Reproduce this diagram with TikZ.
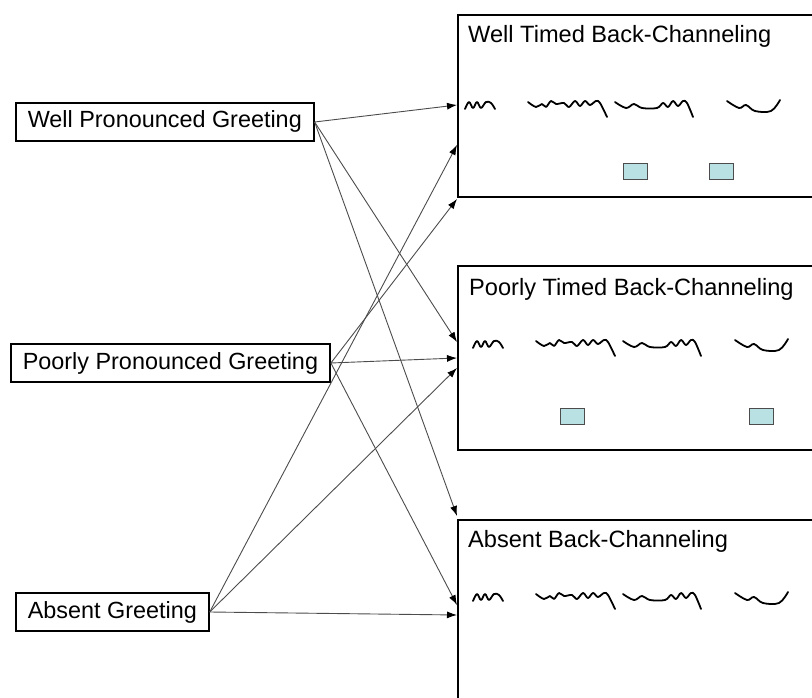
\documentclass[tikz,border=0pt]{standalone}
\usepackage{fontspec}
\setmainfont{Liberation Sans}
\usepackage{tikz}
\usetikzlibrary{arrows.meta}
\definecolor{cuefill}{RGB}{185,224,226}
\tikzset{
  greet/.style={draw, line width=1.6pt, anchor=west, inner xsep=12pt, inner ysep=8pt,
    text height=17pt, text depth=5pt, font=\fontsize{23.4}{28}\selectfont},
  panel/.style={draw, line width=2pt, anchor=north west, minimum width=420pt},
  title/.style={anchor=base west, inner sep=0pt, font=\fontsize{23.6}{28}\selectfont},
  cue/.style={draw=black!70, line width=1pt, fill=cuefill, minimum width=24pt, minimum height=16pt, inner sep=0pt},
  link/.style={draw=black!70, line width=0.9pt, -{Latex[length=10pt,width=7pt,black]}},
  scrawl/.style={line width=1.8pt, line cap=round, line join=round},
  scribble/.pic={
    \draw [scrawl] plot [smooth, tension=0.6] coordinates {(0,6) (4,-1) (8,5) (12,-1) (16,5) (21,-1) (26,0) (30,6)};
    \draw [scrawl] plot [smooth, tension=0.6] coordinates {(63,-1) (71,4) (77,1) (81,4) (86,-2) (91,1) (99,0) (104,4) (110,-2) (115,3) (120,-2) (125,2) (131,-2) (135,0) (142,14)};
    \draw [scrawl] plot [smooth, tension=0.6] coordinates {(150,-1) (161,5) (169,1) (177,5) (192,5) (198,0) (203,4) (208,-2) (213,3) (218,-2) (222,0) (228,14)};
    \draw [scrawl] plot [smooth, tension=0.6] coordinates {(262,-2) (274,5) (281,2) (290,8) (306,8) (315,-3)};
  }
}

\begin{document}
\begin{tikzpicture}[x=1pt, y=-1pt]
\useasboundingbox (0,0) rectangle (812,698);
\clip (0,0) rectangle (812,698);

% greetings
\node [greet] (wpg) at (15,122) {Well Pronounced Greeting};
\node [greet] (ppg) at (10,363) {Poorly Pronounced Greeting};
\node [greet] (abg) at (15,612) {Absent Greeting};

% back-channeling panels
\node [panel, minimum height=182pt] (wtb) at (457,14) {};
\node [title] (wtt) at (468,43) {Well Timed Back-Channeling};
\pic at (465,103) {scribble};
\node [cue] (wc1) at (635,172) {}; \node [cue] (wc2) at (721,172) {};

\node [panel, minimum height=184pt] (ptb) at (457,265) {};
\node [title] (ptt) at (469,295) {Poorly Timed Back-Channeling};
\pic at (473,342) {scribble};
\node [cue] (pc1) at (572,416) {}; \node [cue] (pc2) at (761,416) {};

\node [panel, minimum height=220pt] (abb) at (457,519) {};
\node [title] (abt) at (468,547) {Absent Back-Channeling};
\pic at (473,595) {scribble};

% links
\draw [link] (wpg.east) -- ([yshift=-91pt]wtb.north west);
\draw [link] (wpg.east) -- ([yshift=-77pt]ptb.north west);
\draw [link] (wpg.east) -- ([yshift=3pt]abb.north west);
\draw [link] (ppg.east) -- ([yshift=-1pt]wtb.south west);
\draw [link] (ppg.east) -- ([yshift=-93pt]ptb.north west);
\draw [link] (ppg.east) -- ([yshift=-86pt]abb.north west);
\draw [link] (abg.east) -- ([yshift=-131pt]wtb.north west);
\draw [link] (abg.east) -- ([yshift=-103pt]ptb.north west);
\draw [link] (abg.east) -- ([yshift=-96pt]abb.north west);

\end{tikzpicture}
\end{document}
